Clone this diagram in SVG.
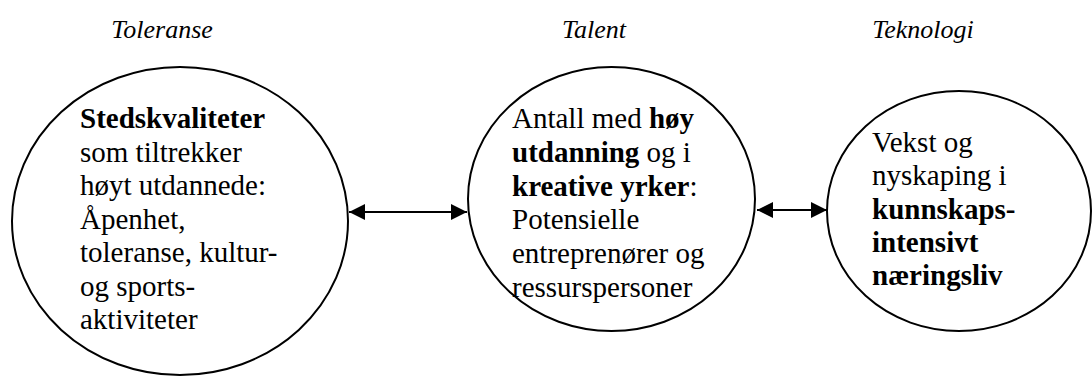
<svg xmlns="http://www.w3.org/2000/svg" width="1092" height="376" viewBox="0 0 1092 376">
<style>
.node{fill:#fff;stroke:#000;stroke-width:2}
.t{font-size:29px;fill:#000}
.h{font-size:26px;font-style:italic;fill:#000;text-anchor:middle}
.b{font-weight:bold}
.conn{stroke:#000;stroke-width:2;fill:none}
</style>
<defs>
<marker id="ah" viewBox="0 0 16 16" refX="16" refY="8" markerWidth="16" markerHeight="16" markerUnits="userSpaceOnUse" orient="auto-start-reverse">
<path d="M0,0 L16,8 L0,16 Z" fill="#000"/>
</marker>
</defs>
<g font-family="'Liberation Serif', 'DejaVu Serif', serif">
<g id="headers">
<text class="h" x="162" y="38">Toleranse</text>
<text class="h" x="594" y="38">Talent</text>
<text class="h" x="923" y="38">Teknologi</text>
</g>
<g id="node-steds">
<ellipse class="node" cx="180" cy="221" rx="168" ry="154"/>
<text class="t" x="80" y="128"><tspan class="b">Stedskvaliteter</tspan><tspan x="80" dy="33.5">som tiltrekker</tspan><tspan x="80" dy="33.5">høyt utdannede:</tspan><tspan x="80" dy="33.5">Åpenhet,</tspan><tspan x="80" dy="33.5">toleranse, kultur-</tspan><tspan x="80" dy="33.5">og sports-</tspan><tspan x="80" dy="33.5">aktiviteter</tspan></text>
</g>
<g id="node-talent">
<ellipse class="node" cx="611.5" cy="199" rx="143.5" ry="132"/>
<text class="t" x="512" y="128">Antall med <tspan class="b">høy</tspan><tspan x="512" dy="33.8" class="b">utdanning</tspan> og i<tspan x="512" dy="33.8" class="b">kreative yrker</tspan>:<tspan x="512" dy="33.8">Potensielle</tspan><tspan x="512" dy="33.8">entreprenører og</tspan><tspan x="512" dy="33.8">ressurspersoner</tspan></text>
</g>
<g id="node-tek">
<ellipse class="node" cx="959" cy="211" rx="132" ry="120"/>
<text class="t" x="872" y="152">Vekst og<tspan x="872" dy="33.25">nyskaping i</tspan><tspan x="872" dy="33.25" class="b">kunnskaps-</tspan><tspan x="872" dy="33.25" class="b">intensivt</tspan><tspan x="872" dy="33.25" class="b">næringsliv</tspan></text>
</g>
</g>
<g id="connectors">
<line class="conn" x1="349" y1="212" x2="467" y2="212" marker-start="url(#ah)" marker-end="url(#ah)"/>
<line class="conn" x1="757" y1="210" x2="827" y2="210" marker-start="url(#ah)" marker-end="url(#ah)"/>
</g>
</svg>
